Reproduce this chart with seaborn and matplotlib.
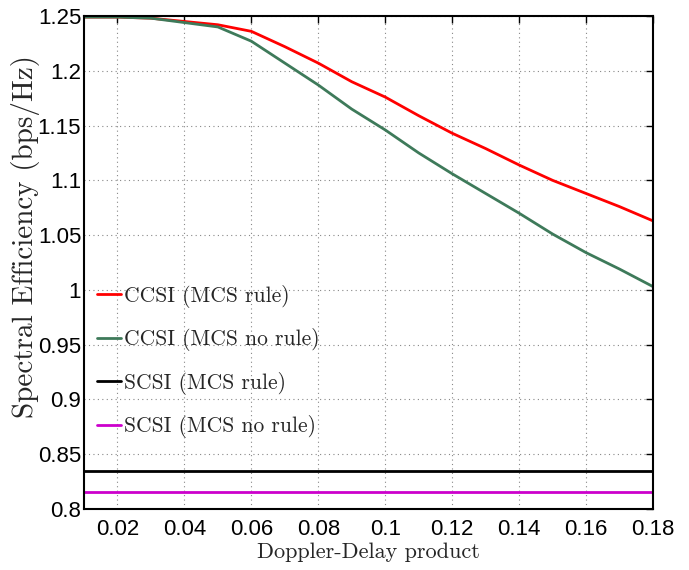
import matplotlib
matplotlib.use("Agg")
import matplotlib.pyplot as plt
import seaborn as sns
import pandas as pd

x_vals = [0.01, 0.02, 0.03, 0.04, 0.05, 0.06, 0.07, 0.08, 0.09,
          0.10, 0.11, 0.12, 0.13, 0.14, 0.15, 0.16, 0.17, 0.18]
ccsi_rule = [1.249, 1.249, 1.248, 1.245, 1.242, 1.236, 1.222, 1.207, 1.190,
             1.176, 1.159, 1.143, 1.129, 1.114, 1.100, 1.088, 1.076, 1.063]
ccsi_norule = [1.249, 1.249, 1.248, 1.244, 1.240, 1.227, 1.207, 1.187, 1.165,
               1.146, 1.125, 1.106, 1.088, 1.070, 1.051, 1.034, 1.019, 1.003]
scsi_rule = [0.8346] * len(x_vals)
scsi_norule = [0.8155] * len(x_vals)

labels = ["CCSI (MCS rule)", "CCSI (MCS no rule)", "SCSI (MCS rule)", "SCSI (MCS no rule)"]
colors = ["#ff0000", "#3e7a5a", "#000000", "#cc00cc"]
x_ticks = [0.02, 0.04, 0.06, 0.08, 0.10, 0.12, 0.14, 0.16, 0.18]
x_ticklabels = ["0.02", "0.04", "0.06", "0.08", "0.1", "0.12", "0.14", "0.16", "0.18"]
y_ticks = [0.8, 0.85, 0.9, 0.95, 1.0, 1.05, 1.1, 1.15, 1.2, 1.25]
y_ticklabels = ["0.8", "0.85", "0.9", "0.95", "1", "1.05", "1.1", "1.15", "1.2", "1.25"]

df = pd.concat([
    pd.DataFrame({"x": x_vals, "y": vals, "series": lab})
    for vals, lab in zip([ccsi_rule, ccsi_norule, scsi_rule, scsi_norule], labels)
])

sns.set_style("white")
tick_family = ["Liberation Sans", "DejaVu Sans"]
serif = ["cmr10", "DejaVu Serif"]
plt.rcParams["axes.unicode_minus"] = False

fig = plt.figure(figsize=(6.89, 5.70), dpi=100)
ax = fig.add_axes([84/689, 61/570, (653-84)/689, (509-16)/570])

sns.lineplot(data=df, x="x", y="y", hue="series", hue_order=labels,
             palette=dict(zip(labels, colors)), linewidth=2.0, ax=ax,
             legend=False, estimator=None, sort=False)

ax.set_xlim(0.01, 0.18)
ax.set_ylim(0.8, 1.25)
ax.set_xticks(x_ticks)
ax.set_xticklabels(x_ticklabels, family=tick_family, fontsize=16)
ax.set_yticks(y_ticks)
ax.set_yticklabels(y_ticklabels, family=tick_family, fontsize=16)
ax.tick_params(direction="in", length=5, width=1, top=True, right=True,
               colors="black")
ax.tick_params(axis="x", pad=7)
ax.tick_params(axis="y", pad=2)
ax.grid(True, linestyle=(0, (1, 3)), color="#888888", linewidth=0.8)
for s in ax.spines.values():
    s.set_color("black")
    s.set_linewidth(1.5)

ax.set_xlabel("Doppler-Delay product", family=serif, fontsize=16)
ax.set_ylabel("Spectral Efficiency (bps/Hz)", family=serif, fontsize=21)
ax.xaxis.set_label_coords(0.5, -0.068)
ax.yaxis.set_label_coords(-0.077, 0.552)

handles = [plt.Line2D([], [], color=c, linewidth=2.0) for c in colors]
ax.legend(handles, labels, loc="upper left", bbox_to_anchor=(0.012, 0.468),
          frameon=False, prop={"family": serif, "size": 15.5},
          handlelength=1.12, handletextpad=0.14, labelspacing=0.95,
          borderaxespad=0.0, borderpad=0.3)

fig.savefig("out.png", dpi=100)
